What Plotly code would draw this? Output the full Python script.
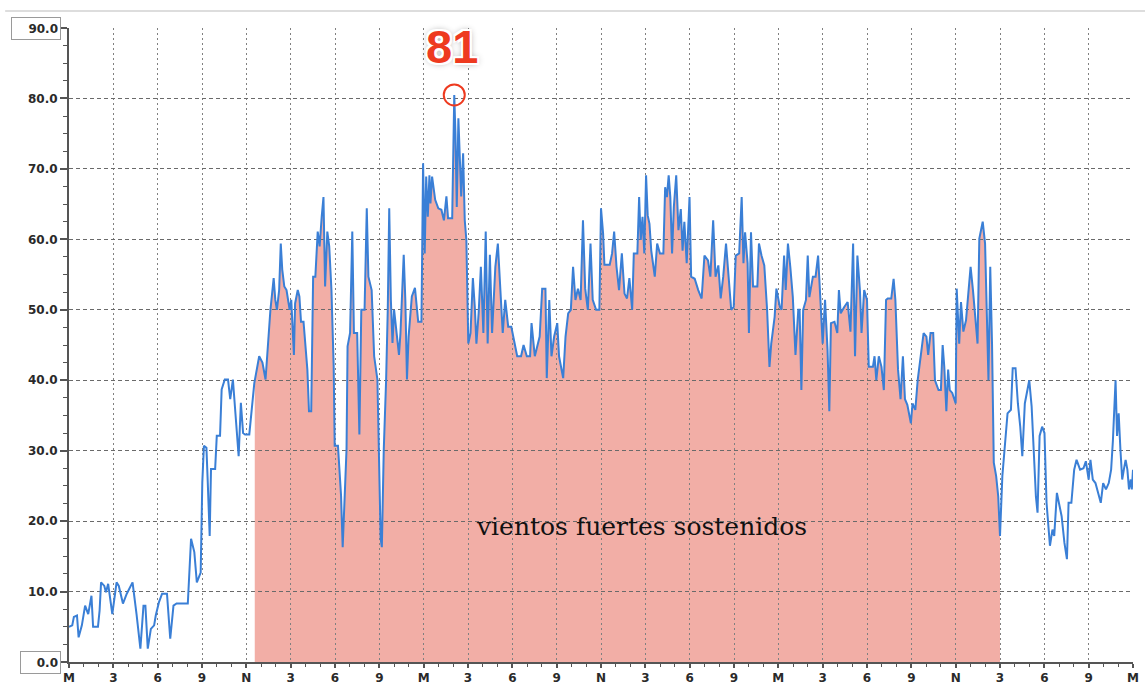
import numpy as np
import plotly.graph_objects as go

# ---------------- data (hours since first midnight, wind speed) ----------------
hours = [
    0.00, 0.22, 0.33, 0.54, 0.65, 0.87, 1.09, 1.30, 1.52, 1.63, 1.96, 2.07, 2.17, 2.39, 2.50, 2.65,
    2.93, 3.22, 3.37, 3.65, 3.91, 4.30, 4.57, 4.83, 5.04, 5.17, 5.33, 5.54, 5.76, 5.87, 6.09, 6.30,
    6.63, 6.85, 7.07, 7.28, 8.04, 8.26, 8.48, 8.65, 8.91, 9.02, 9.13, 9.30, 9.39, 9.52, 9.61, 9.89,
    10.00, 10.22, 10.33, 10.54, 10.76, 10.91, 11.09, 11.20, 11.35, 11.48, 11.63, 11.78, 11.91, 12.20,
    12.54, 12.87, 13.09, 13.30, 13.63, 13.85, 13.96, 14.07, 14.22, 14.33, 14.43, 14.57, 14.72, 14.93,
    15.04, 15.15, 15.22, 15.30, 15.48, 15.59, 15.70, 15.87, 16.13, 16.24, 16.39, 16.52, 16.67, 16.83,
    16.96, 17.10, 17.22, 17.33, 17.48, 17.61, 17.76, 17.91, 17.98, 18.20, 18.30, 18.41, 18.52, 18.63,
    18.78, 18.85, 19.02, 19.17, 19.28, 19.50, 19.65, 19.78, 20.00, 20.15, 20.26, 20.48, 20.65, 20.87,
    20.96, 21.09, 21.17, 21.30, 21.46, 21.57, 21.67, 21.78, 21.89, 22.00, 22.17, 22.33, 22.43, 22.65,
    22.76, 22.87, 22.98, 23.20, 23.41, 23.63, 23.85, 23.96, 24.07, 24.17, 24.28, 24.39,
    24.46, 24.57, 24.78, 24.99, 25.20, 25.37, 25.54, 25.65, 25.93, 25.98, 26.07, 26.15, 26.24, 26.35,
    26.46, 26.54, 26.67, 26.78, 26.89, 26.98, 27.02, 27.17, 27.33, 27.46, 27.57, 27.72, 27.87, 28.04,
    28.20, 28.33, 28.48, 28.63, 28.85, 29.02, 29.20, 29.35, 29.52, 29.72, 29.93, 30.11, 30.33, 30.59,
    30.76, 30.98, 31.20, 31.30, 31.52, 31.85, 32.02, 32.24, 32.33, 32.50, 32.65, 32.83, 33.04, 33.16,
    33.44, 33.60, 33.78, 33.96, 34.11, 34.27, 34.44, 34.62, 34.78, 34.93, 35.11, 35.29, 35.44, 35.67,
    35.89, 36.00, 36.14, 36.23, 36.59, 36.75, 36.89, 37.05, 37.22, 37.41, 37.59, 37.76, 37.92, 38.11,
    38.22, 38.46, 38.58, 38.69, 38.81, 38.93, 39.05, 39.16, 39.28, 39.40, 39.52, 39.64, 39.80, 39.99,
    40.22, 40.34, 40.46, 40.58, 40.69, 40.81, 40.93, 41.09, 41.24, 41.40, 41.52, 41.64, 41.80, 41.99,
    42.10, 42.34, 42.58, 42.81, 43.00, 43.24, 43.40, 43.59, 43.75, 43.94, 44.10, 44.27, 44.46, 44.65,
    44.81, 44.98, 45.12, 45.35, 45.52, 45.64, 45.75, 45.92, 46.01, 46.15, 46.29, 46.58, 46.69, 46.86,
    47.05, 47.24, 47.40, 47.52, 47.75, 47.87, 47.98, 48.10, 48.22, 48.39, 48.50, 48.65, 48.81, 48.98,
    49.16, 49.35, 49.44, 49.56, 49.68, 49.87, 49.99, 50.10, 50.34, 50.52, 50.69, 50.86, 51.00, 51.16,
    51.33, 51.45, 51.56, 51.80, 51.99, 52.10, 52.22, 52.46, 52.69, 52.88, 52.98, 53.06, 53.19, 53.35,
    53.52, 53.63, 53.81, 54.00, 54.12, 54.40, 54.51, 54.63, 54.80, 54.98, 55.14, 55.29, 55.40, 55.64,
    55.80, 55.92, 56.10, 56.27, 56.43, 56.57, 56.73, 56.97, 57.08, 57.27, 57.43, 57.67, 57.83, 58.02,
    58.14, 58.30, 58.48, 58.60, 58.84, 59.00, 59.12, 59.23, 59.37, 59.49, 59.60, 59.77, 60.00, 60.07,
    60.24, 60.36, 60.52, 60.70, 60.87, 61.01, 61.17, 61.34, 61.48, 61.60, 61.71, 61.83, 61.99, 62.10,
    62.22, 62.34, 62.46, 62.58, 62.74, 62.88, 63.00, 63.16, 63.35, 63.51, 63.74, 63.86, 64.05, 64.21,
    64.37, 64.51, 64.68, 64.84, 64.98, 65.14, 65.31, 65.43, 65.54, 65.68, 65.85, 66.01, 66.15, 66.24,
    66.38, 66.55, 66.67, 66.85, 67.01, 67.17, 67.36, 67.53, 67.64, 67.83, 68.02, 68.18, 68.42, 68.65,
    68.81, 69.00, 69.12, 69.28, 69.46, 69.65, 69.82, 69.98, 70.17, 70.36, 70.52, 70.64, 70.75, 70.82,
    70.92, 71.03, 71.15, 71.27, 71.38, 71.50, 71.62, 71.73, 71.85, 71.92, 72.00,
]
speed = [
    5.0, 5.2, 6.4, 6.6, 3.5, 5.2, 8.0, 6.8, 9.4, 5.0, 5.0, 7.3, 11.3, 10.8, 9.9, 11.1,
    6.8, 11.3, 10.8, 8.3, 9.7, 11.3, 6.8, 1.9, 8.0, 8.0, 1.9, 4.7, 5.2, 6.6, 8.5, 9.7,
    9.7, 3.3, 8.0, 8.3, 8.3, 17.5, 15.6, 11.3, 12.7, 25.5, 30.7, 30.4, 25.5, 17.9, 27.4, 27.4,
    32.1, 32.1, 38.7, 40.1, 40.1, 37.3, 40.1, 36.8, 32.1, 29.2, 36.8, 32.5, 32.3, 32.3,
    39.6, 43.4, 42.5, 40.1, 50.0, 54.5, 51.4, 50.0, 52.8, 59.4, 55.7, 53.3, 52.8, 50.0,
    51.4, 47.2, 43.6, 50.9, 52.8, 51.9, 48.3, 48.3, 41.5, 35.6, 35.6, 54.7, 54.7, 61.1,
    59.0, 63.2, 66.0, 53.3, 61.1, 59.0, 52.8, 42.0, 30.7, 30.7, 27.4, 23.6, 16.3, 23.6,
    30.2, 44.8, 46.7, 61.1, 46.7, 46.7, 32.3, 50.0, 50.0, 64.4, 54.7, 52.8, 43.4, 40.1,
    30.2, 17.5, 16.3, 30.2, 40.1, 50.0, 64.4, 51.4, 45.3, 50.0, 46.7, 43.6, 46.7, 57.8,
    51.4, 40.1, 46.2, 51.9, 53.1, 48.3, 48.3, 70.8, 58.0, 68.9, 63.2, 69.1,
    65.1, 68.9, 65.6, 64.4, 64.2, 62.7, 66.1, 63.0, 63.0, 71.3, 80.5, 75.0, 64.6, 77.2,
    71.3, 66.1, 72.2, 62.7, 59.9, 49.5, 45.2, 46.7, 54.5, 50.4, 45.2, 49.5, 56.1, 46.7,
    61.1, 45.2, 57.8, 46.7, 56.1, 59.4, 51.9, 46.7, 51.4, 47.6, 47.6, 45.7, 43.4, 43.4,
    45.0, 43.4, 43.4, 48.1, 43.4, 46.2, 53.0, 53.0, 40.3, 51.4, 43.4, 46.2, 48.1, 43.4,
    40.3, 46.2, 49.5, 50.0, 56.1, 51.4, 53.0, 51.4, 62.7, 53.0, 50.0, 59.4, 51.4, 50.0,
    50.0, 64.4, 60.9, 56.4, 56.4, 58.0, 61.1, 56.1, 52.8, 58.0, 52.3, 51.6, 54.5, 50.0,
    58.0, 58.0, 66.0, 59.9, 63.2, 58.0, 69.1, 63.4, 62.2, 58.4, 56.6, 54.7, 59.4, 58.0,
    58.0, 67.4, 66.0, 69.1, 66.0, 58.0, 64.6, 69.1, 61.3, 64.3, 58.4, 62.5, 56.6, 66.0,
    54.7, 54.4, 52.8, 51.6, 57.7, 57.0, 54.7, 62.7, 54.7, 56.3, 51.6, 54.7, 59.4, 54.7,
    50.0, 50.4, 57.7, 58.0, 66.0, 56.6, 61.0, 56.6, 46.7, 61.0, 53.3, 53.3, 59.4, 57.7,
    56.3, 50.0, 41.9, 45.2, 49.0, 53.0, 51.8, 50.4, 50.0, 57.7, 52.8, 59.4, 56.1, 51.8,
    43.6, 50.0, 50.0, 38.6, 50.0, 51.4, 57.7, 51.8, 54.7, 54.7, 57.7, 50.0, 45.2, 51.4,
    44.3, 35.6, 48.1, 48.3, 46.7, 52.8, 49.5, 50.4, 51.1, 46.9, 52.8, 59.4, 43.4, 57.7,
    52.8, 46.7, 52.8, 51.4, 41.9, 41.9, 43.4, 40.0, 43.4, 41.9, 38.6, 51.4, 51.6, 51.6,
    54.4, 51.4, 41.5, 37.3, 43.4, 37.3, 36.5, 33.9, 36.7, 35.8, 40.0, 44.3, 46.7, 46.2,
    43.6, 46.7, 46.7, 40.0, 38.6, 38.6, 45.0, 41.9, 35.6, 41.5, 38.6, 38.2, 36.7, 53.0,
    45.2, 51.1, 46.9, 48.5, 52.3, 56.1, 52.8, 48.1, 45.2, 60.1, 61.3, 62.5, 59.4, 48.1,
    40.0, 56.1, 45.2, 28.3, 26.4, 23.5, 17.9, 26.4, 31.1, 35.3, 35.8, 41.7, 41.7, 36.7,
    33.4, 29.2, 36.7, 38.4, 40.0, 36.3, 27.3, 23.5, 21.2, 32.1, 33.4, 32.5, 22.6, 20.2,
    16.5, 18.8, 17.9, 24.0, 22.1, 20.7, 16.9, 14.6, 22.6, 22.6, 27.3, 28.7, 27.3, 27.5,
    28.5, 25.9, 28.7, 25.9, 25.4, 24.0, 22.6, 25.4, 24.5, 25.4, 27.3, 31.4, 35.8, 40.0,
    32.1, 35.3, 30.1, 25.9, 27.3, 28.7, 27.3, 24.5, 25.9, 24.5, 27.3,
]

# sustained strong-wind period (hours)
sustained_start = 12.57
sustained_end = 63.0

x_tick_hours = list(range(0, 73, 3))
x_tick_labels = ["M", "3", "6", "9", "N", "3", "6", "9"] * 3 + ["M"]
y_tick_values = list(range(0, 91, 10))
y_tick_labels = ["" if v in (0, 90) else f"{v:.1f}" for v in y_tick_values]
boxed_labels = [90, 0]

peak_label = "81"
period_label = "vientos fuertes sostenidos"

# ---------------- build ----------------
h = np.array(hours)
s = np.array(speed)
m = (h > sustained_start) & (h < sustained_end)
fx = np.concatenate([[sustained_start], h[m], [sustained_end]])
fy = np.concatenate([[np.interp(sustained_start, h, s)], s[m], [np.interp(sustained_end, h, s)]])
ipk = int(np.argmax(s))

RED = "#ee3a1f"
fig = go.Figure()
fig.add_trace(go.Scatter(x=fx, y=fy, mode="lines", fill="tozeroy",
                         fillcolor="#f2aea6", line=dict(width=0),
                         xaxis="x", yaxis="y", hoverinfo="skip", showlegend=False))
fig.add_trace(go.Scatter(x=hours, y=speed, mode="lines",
                         line=dict(color="#3a7fd6", width=2),
                         xaxis="x2", yaxis="y2", hoverinfo="skip", showlegend=False))
fig.add_trace(go.Scatter(x=[hours[ipk]], y=[speed[ipk]], mode="markers",
                         marker=dict(symbol="circle-open", size=21,
                                     line=dict(color=RED, width=2), color=RED),
                         xaxis="x2", yaxis="y2", hoverinfo="skip", showlegend=False))

tickfont = dict(family="DejaVu Sans", size=12, color="#2a2a2a", weight="bold")
AX = "#555555"

annotations = [
    dict(x=hours[ipk], y=speed[ipk], xref="x2", yref="y2", text=peak_label,
         showarrow=False, yshift=48, xshift=-2,
         font=dict(family="Liberation Sans", size=47, color=RED, weight="bold",
                   shadow="-2px -2px 0 #fff, 2px -2px 0 #fff, -2px 2px 0 #fff, 2px 2px 0 #fff, 0 0 7px rgba(0,0,0,0.45)")),
    dict(x=0.5376, y=0.1877, xref="paper", yref="paper", text=period_label,
         showarrow=False,
         font=dict(family="DejaVu Serif", size=25, color="#111111")),
]
for v in boxed_labels:
    annotations.append(dict(x=0, y=v, xref="paper", yref="y2", text=f"{v:.1f}",
                            xanchor="right", yanchor="middle", xshift=-8,
                            showarrow=False, align="right",
                            width=44 if v >= 10 else 35, height=17,
                            bordercolor="#9a9a9a", borderwidth=1, borderpad=2,
                            bgcolor="white", font=tickfont))

fig.update_layout(
    width=1145, height=686,
    margin=dict(l=69, r=12, t=28, b=24, autoexpand=False),
    paper_bgcolor="white", plot_bgcolor="rgba(0,0,0,0)",
    hovermode=False,
    xaxis=dict(domain=[0, 1], range=[0, 72], visible=False, automargin=False),
    yaxis=dict(domain=[0, 1], range=[0, 90], visible=False, automargin=False),
    xaxis2=dict(domain=[0, 1], range=[0, 72], anchor="y2", automargin=False,
                tickmode="array", tickvals=x_tick_hours, ticktext=x_tick_labels,
                showgrid=True, gridcolor="#808080", gridwidth=1, griddash="2px,3px",
                showline=True, linecolor=AX, linewidth=2, zeroline=False,
                ticks="outside", ticklen=4, tickwidth=2, tickcolor=AX,
                ticklabelstandoff=0,
                minor=dict(tickmode="linear", tick0=0, dtick=1, ticks="outside",
                           ticklen=3, tickwidth=1, tickcolor=AX, showgrid=False),
                tickfont=tickfont),
    yaxis2=dict(domain=[0, 1], range=[0, 90], anchor="x2", automargin=False,
                tickmode="array", tickvals=y_tick_values, ticktext=y_tick_labels,
                showgrid=True, gridcolor="#6a6a6a", gridwidth=1, griddash="4px,3px",
                showline=True, linecolor=AX, linewidth=2, zeroline=False,
                ticks="outside", ticklen=7, tickwidth=2, tickcolor=AX,
                minor=dict(tickmode="linear", tick0=0, dtick=2.5, ticks="outside",
                           ticklen=4, tickwidth=1, tickcolor=AX, showgrid=False),
                tickfont=tickfont),
    annotations=annotations,
    shapes=[dict(type="line", xref="paper", yref="paper", x0=-0.06, x1=1.012,
                 y0=1.027, y1=1.027, line=dict(color="#dddddd", width=2))],
)

fig.write_html("out.html", config={"displayModeBar": False},
               post_script="document.body.style.margin='0';")
